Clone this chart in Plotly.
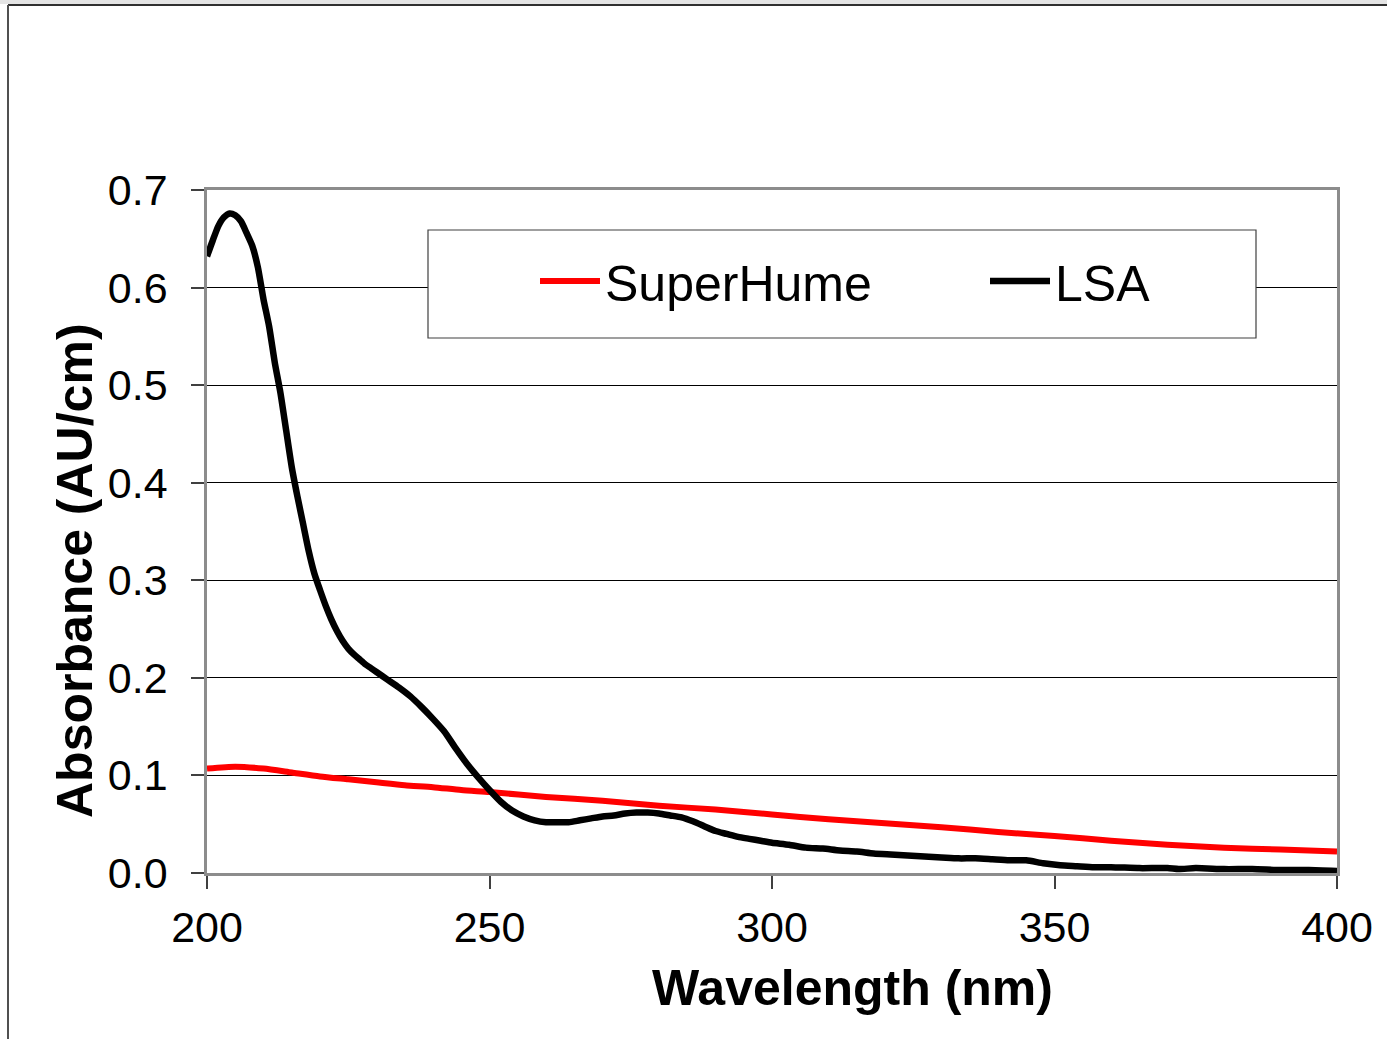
import plotly.graph_objects as go

# ---- data ----
lsa_wl = [200, 201, 202, 203, 204, 205, 206, 207, 208, 209, 210, 211, 212, 213, 214, 215, 216, 217,
          218, 219, 220, 221, 222, 223, 224, 225, 226, 227, 228, 229, 230, 232, 234, 236, 238, 240,
          242, 244, 246, 248, 250, 252, 254, 256, 258, 260, 262, 264, 266, 268, 270, 272, 274, 276,
          278, 280, 282, 284, 286, 288, 290, 292, 294, 296, 298, 300, 303, 306, 309, 312, 315, 318,
          321, 324, 327, 330, 333, 336, 339, 342, 345, 348, 351, 354, 357, 360, 365, 370, 372, 375,
          380, 385, 390, 395, 400]
lsa_abs = [0.632, 0.648, 0.663, 0.672, 0.676, 0.674, 0.668, 0.656, 0.643, 0.621, 0.588, 0.560, 0.523,
           0.492, 0.454, 0.416, 0.386, 0.358, 0.330, 0.307, 0.290, 0.274, 0.260, 0.248, 0.238, 0.230,
           0.224, 0.219, 0.214, 0.210, 0.206, 0.198, 0.190, 0.181, 0.170, 0.158, 0.145, 0.128, 0.112,
           0.098, 0.085, 0.073, 0.064, 0.058, 0.054, 0.052, 0.052, 0.052, 0.054, 0.056, 0.058, 0.059,
           0.061, 0.062, 0.062, 0.061, 0.059, 0.057, 0.053, 0.048, 0.043, 0.040, 0.037, 0.035, 0.033,
           0.031, 0.029, 0.026, 0.025, 0.023, 0.022, 0.020, 0.019, 0.018, 0.017, 0.016, 0.015, 0.015,
           0.014, 0.013, 0.013, 0.010, 0.008, 0.007, 0.006, 0.006, 0.005, 0.005, 0.004, 0.005, 0.004,
           0.004, 0.003, 0.003, 0.002]

sh_wl = [200, 205, 210, 215, 220, 225, 230, 235, 240, 245, 250, 260, 270, 280, 290, 300, 310, 320,
         330, 340, 350, 360, 370, 380, 390, 400]
sh_abs = [0.107, 0.109, 0.107, 0.103, 0.099, 0.096, 0.093, 0.090, 0.088, 0.085, 0.083, 0.078, 0.074,
          0.069, 0.065, 0.060, 0.055, 0.051, 0.047, 0.042, 0.038, 0.033, 0.029, 0.026, 0.024, 0.022]

x_ticks = [200, 250, 300, 350, 400]
y_ticks = [0.0, 0.1, 0.2, 0.3, 0.4, 0.5, 0.6, 0.7]

FONT = "Arial, Liberation Sans, sans-serif"
W, H = 1387, 1039
L, R, T, B = 207, 50, 190, 166
PW, PH = W - L - R, H - T - B


def px_x(p):
    return (p - L) / PW


def px_y(p):
    return (H - B - p) / PH


fig = go.Figure()
fig.add_trace(go.Scatter(x=sh_wl, y=sh_abs, mode="lines", name="SuperHume",
                         line=dict(color="#ff0000", width=6, shape="spline", smoothing=0.6)))
fig.add_trace(go.Scatter(x=lsa_wl, y=lsa_abs, mode="lines", name="LSA",
                         line=dict(color="#000000", width=6.5, shape="spline", smoothing=0.6)))

axis_common = dict(showline=True, linecolor="#8c8c8c", linewidth=2.5, mirror=True,
                   ticks="outside", ticklen=13, tickwidth=1.5, tickcolor="#404040",
                   tickfont=dict(family=FONT, size=43, color="#000000"), zeroline=False)

fig.update_xaxes(range=[200, 400], tickvals=x_ticks, showgrid=False,
                 ticklabelstandoff=2, **axis_common)
fig.update_yaxes(range=[0, 0.7], tickvals=y_ticks, tickformat=".1f", showgrid=True,
                 gridcolor="#000000", gridwidth=1, ticklabelstandoff=15, **axis_common)

shapes = [
    # outer frame
    dict(type="rect", xref="paper", yref="paper", x0=px_x(0), x1=px_x(W), y0=px_y(0), y1=px_y(4),
         fillcolor="#e4e4e4", line=dict(width=0), layer="below"),
    dict(type="line", xref="paper", yref="paper", x0=px_x(8), x1=px_x(W), y0=px_y(5), y1=px_y(5),
         line=dict(color="#303030", width=2)),
    dict(type="line", xref="paper", yref="paper", x0=px_x(8), x1=px_x(8), y0=px_y(5), y1=px_y(H),
         line=dict(color="#505050", width=2)),
    # legend box
    dict(type="rect", xref="paper", yref="paper", x0=px_x(428), x1=px_x(1256), y0=px_y(230),
         y1=px_y(338), fillcolor="#ffffff", line=dict(color="#404040", width=1.2), layer="above"),
]

annotations = [
    dict(text="<b>Wavelength (nm)</b>", xref="paper", yref="paper", x=px_x(852), y=px_y(988),
         xanchor="center", yanchor="middle", showarrow=False,
         font=dict(family=FONT, size=50, color="#000000")),
    dict(text="<b>Absorbance (AU/cm)</b>", xref="paper", yref="paper", x=px_x(75), y=px_y(571),
         xanchor="center", yanchor="middle", showarrow=False, textangle=-90,
         font=dict(family=FONT, size=50, color="#000000")),
]

fig.update_layout(
    width=W, height=H,
    margin=dict(l=L, r=R, t=T, b=B, pad=0, autoexpand=False),
    paper_bgcolor="#ffffff", plot_bgcolor="#ffffff",
    shapes=shapes, annotations=annotations,
    showlegend=True,
    legend=dict(orientation="h", x=px_x(535), y=px_y(281), xanchor="left", yanchor="middle",
                bgcolor="rgba(0,0,0,0)", borderwidth=0, itemwidth=60, entrywidth=375,
                font=dict(family=FONT, size=50, color="#000000")),
)

fig.write_html("out.html", post_script="document.body.style.margin='0';",
               config={"displayModeBar": False})
